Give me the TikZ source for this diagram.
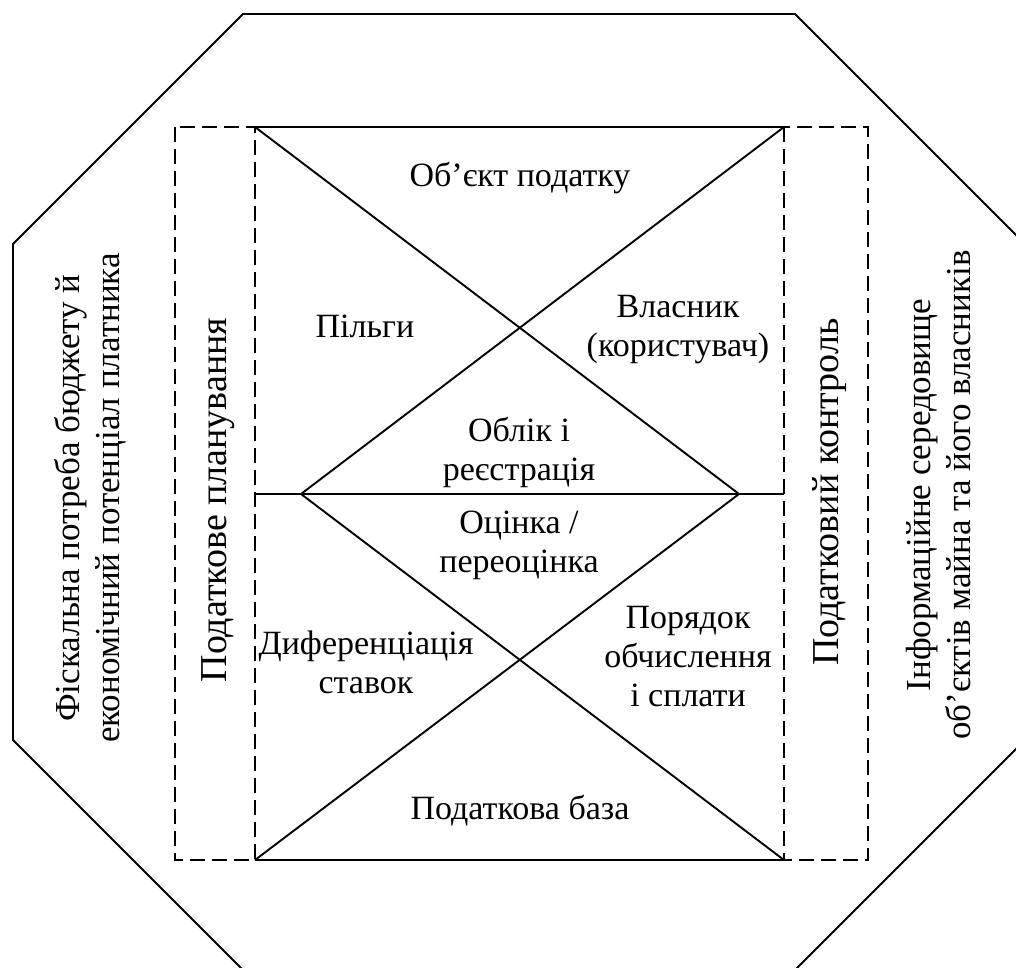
\documentclass[tikz,border=0pt]{standalone}
\usepackage{fontspec}
\setmainfont{Liberation Serif}
\begin{document}
\begin{tikzpicture}[x=1pt,y=-1pt,
  solidline/.style={line width=1.9pt, line join=miter},
  dashbox/.style={line width=1.9pt, dash pattern=on 15pt off 7pt},
  inner/.style={font=\fontsize{34}{39}\selectfont, inner sep=0pt, align=center},
  sidelab/.style={font=\fontsize{38}{44}\selectfont, inner sep=0pt, rotate=90},
  outerlab/.style={font=\fontsize{35}{40}\selectfont, inner sep=0pt, align=center, rotate=90}]
\useasboundingbox (0,0) rectangle (1016,967);
\clip (0,0) rectangle (1016,967);
% octagon
\coordinate (o1) at (243,14);
\coordinate (o2) at (795,14);
\coordinate (o3) at (1025,244);
\coordinate (o4) at (1025,740);
\coordinate (o5) at (795,970);
\coordinate (o6) at (243,970);
\coordinate (o7) at (13,740);
\coordinate (o8) at (13,244);
\draw[solidline] (o1) -- (o2) -- (o3) -- (o4) -- (o5) -- (o6) -- (o7) -- (o8) -- cycle;
% inner frame
\coordinate (TL) at (255,127);
\coordinate (TR) at (784,127);
\coordinate (BL) at (255,860);
\coordinate (BR) at (784,860);
\coordinate (ML) at (255,494);
\coordinate (MR) at (784,494);
\coordinate (PL) at (301,494);
\coordinate (PR) at (739,494);
\coordinate (DL) at (175,127);
\coordinate (DR) at (868,860);
\draw[solidline] (TL) -- (TR);
\draw[solidline] (BL) -- (BR);
\draw[solidline] (ML) -- (MR);
\draw[solidline] (TL) -- (PR) -- (BL);
\draw[solidline] (TR) -- (PL) -- (BR);
\draw[dashbox] (DL) rectangle (BL);
\draw[dashbox] (TR) rectangle (DR);
% inner labels
\node[inner, anchor=base] (obj) at (520,186) {Об’єкт податку};
\node[inner, anchor=base] (pilg) at (365,337) {Пільги};
\node[inner] (vlas) at (678,330) {Власник\\(користувач)};
\node[inner] (obl) at (519,452) {Облік і\\реєстрація};
\node[inner] (ots) at (519,545) {Оцінка /\\переоцінка};
\node[inner] (dyf) at (366,662) {Диференціація\\ставок};
\node[inner] (por) at (688,657) {Порядок\\обчислення\\і сплати};
\node[inner, anchor=base] (baza) at (520,819) {Податкова база};
% side labels
\node[sidelab] (plan) at (218,500) {Податкове планування};
\node[sidelab] (kontr) at (830,492) {Податковий контроль};
\node[outerlab] (fisk) at (90,498) {Фіскальна потреба бюджету й\\економічний потенціал платника};
\node[outerlab] (inf) at (939,495) {Інформаційне середовище\\об’єктів майна та його власників};
\end{tikzpicture}
\end{document}
